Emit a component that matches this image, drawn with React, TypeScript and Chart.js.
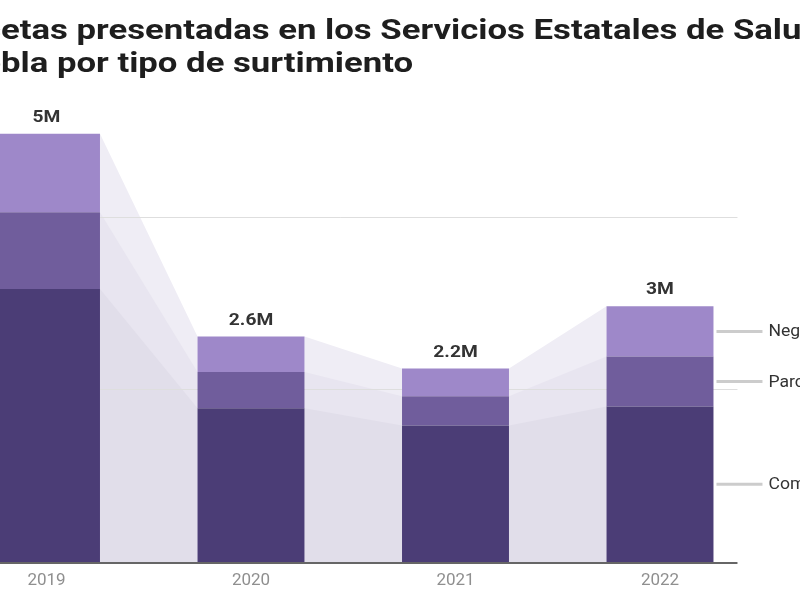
import React, { useEffect, useRef } from "react";
import { Chart, registerables } from "chart.js";

Chart.register(...registerables);

const years = ["2019", "2020", "2021", "2022"];
const completa = [3160000, 1780000, 1580000, 1800000];
const parcial = [890000, 420000, 340000, 580000];
const negada = [910000, 410000, 320000, 580000];
const seriesNames = ["Completa", "Parcial", "Negada"];
const gridValues = [2000000, 4000000];
const titleLine1Hidden = "Rec";
const titleLine1 = "etas presentadas en los Servicios Estatales de Salud de";
const titleLine2Hidden = "Pue";
const titleLine2 = "bla por tipo de surtimiento";

const barColors = ["#4b3d76", "#705d9c", "#9e88c9"];
const connectorColors = ["#e1deea", "#e8e5f0", "#efedf5"];

const CANVAS_W = 1000;
const CANVAS_H = 600;
const CANVAS_LEFT = -120;

function fmtTotal(v: number): string {
  const r = Math.round(v / 100000) / 10;
  return (Number.isInteger(r) ? r.toFixed(0) : r.toFixed(1)) + "M";
}

function scaledText(ctx: any, text: string, x: number, y: number, sx: number, align: string) {
  ctx.save();
  ctx.translate(x, y);
  ctx.scale(sx, 1);
  ctx.textAlign = align;
  ctx.fillText(text, 0, 0);
  ctx.restore();
}

const decoPlugin = {
  id: "deco",
  beforeDatasetsDraw(chart: any) {
    const { ctx, chartArea } = chart;
    const y = chart.scales.y;
    const metas = [0, 1, 2].map((i) => chart.getDatasetMeta(i));
    const base = y.getPixelForValue(0);
    ctx.save();
    for (let k = 2; k >= 0; k--) {
      ctx.fillStyle = connectorColors[k];
      for (let i = 0; i < years.length - 1; i++) {
        const a = metas[k].data[i];
        const b = metas[k].data[i + 1];
        const ax = a.x + a.width / 2;
        const bx = b.x - b.width / 2;
        ctx.beginPath();
        ctx.moveTo(ax, base);
        ctx.lineTo(ax, a.y);
        ctx.lineTo(bx, b.y);
        ctx.lineTo(bx, base);
        ctx.closePath();
        ctx.fill();
      }
    }
    const last = metas[0].data[years.length - 1];
    const gridRight = last.x + last.width / 2 + 24;
    ctx.strokeStyle = "#dedede";
    ctx.lineWidth = 1;
    gridValues.forEach((v) => {
      const py = Math.round(y.getPixelForValue(v)) + 0.5;
      ctx.beginPath();
      ctx.moveTo(chartArea.left, py);
      ctx.lineTo(gridRight, py);
      ctx.stroke();
    });
    ctx.restore();
  },
  afterDatasetsDraw(chart: any) {
    const { ctx, chartArea } = chart;
    const y = chart.scales.y;
    const metas = [0, 1, 2].map((i) => chart.getDatasetMeta(i));
    const base = y.getPixelForValue(0);
    const lastIdx = years.length - 1;
    const last = metas[0].data[lastIdx];
    const gridRight = last.x + last.width / 2 + 24;
    ctx.save();
    // baseline
    ctx.strokeStyle = "#666666";
    ctx.lineWidth = 2;
    ctx.beginPath();
    ctx.moveTo(chartArea.left, base + 1);
    ctx.lineTo(gridRight, base + 1);
    ctx.stroke();
    // totals
    ctx.fillStyle = "#333333";
    ctx.font = "bold 16px Roboto";
    ctx.textBaseline = "middle";
    years.forEach((_, i) => {
      const total = completa[i] + parcial[i] + negada[i];
      const top = metas[2].data[i];
      scaledText(ctx, fmtTotal(total), top.x, top.y - 16, 1.2, "center");
    });
    // right labels
    ctx.font = "16px Roboto";
    for (let k = 2; k >= 0; k--) {
      const el = metas[k].data[lastIdx];
      const mid = (el.y + el.base) / 2;
      const x0 = el.x + el.width / 2 + 3;
      ctx.strokeStyle = "#cccccc";
      ctx.lineWidth = 3;
      ctx.beginPath();
      ctx.moveTo(x0, mid);
      ctx.lineTo(x0 + 46, mid);
      ctx.stroke();
      ctx.fillStyle = "#333333";
      scaledText(ctx, seriesNames[k], x0 + 52, mid + 1, 1.1, "left");
    }
    ctx.restore();
  },
};

export default function App() {
  const canvasRef = useRef<HTMLCanvasElement | null>(null);

  useEffect(() => {
    const canvas = canvasRef.current;
    if (!canvas) return;
    Chart.defaults.font.family = "Roboto";
    const chart = new Chart(canvas, {
      type: "bar",
      data: {
        labels: years,
        datasets: [
          { label: seriesNames[0], data: completa, backgroundColor: barColors[0] },
          { label: seriesNames[1], data: parcial, backgroundColor: barColors[1] },
          { label: seriesNames[2], data: negada, backgroundColor: barColors[2] },
        ],
      },
      options: {
        responsive: false,
        animation: false,
        layout: { padding: { left: 64.25, right: 117.75, top: 87, bottom: 0 } },
        datasets: { bar: { categoryPercentage: 0.523, barPercentage: 1 } },
        plugins: { legend: { display: false }, tooltip: { enabled: false } },
        scales: {
          x: {
            stacked: true,
            grid: { display: false, drawTicks: false },
            border: { display: false },
            ticks: { color: "#8f8f8f", font: { size: 17 }, padding: 9 },
            afterFit: (scale: any) => {
              scale.height = 38;
            },
          },
          y: {
            stacked: true,
            display: false,
            min: 0,
            max: 5500000,
          },
        },
      },
      plugins: [decoPlugin],
    } as any);
    return () => chart.destroy();
  }, []);

  return (
    <div
      style={{
        position: "fixed",
        left: 0,
        top: 0,
        width: 800,
        height: 600,
        overflow: "hidden",
        background: "#ffffff",
      }}
    >
      <canvas
        ref={canvasRef}
        width={CANVAS_W}
        height={CANVAS_H}
        style={{ position: "absolute", left: CANVAS_LEFT, top: 0, width: CANVAS_W, height: CANVAS_H }}
      />
      <div
        style={{
          position: "absolute",
          left: 1,
          top: 13,
          fontFamily: "Roboto",
          fontWeight: 700,
          fontSize: 28,
          lineHeight: "33px",
          color: "#1e1e1e",
          whiteSpace: "nowrap",
          transform: "scaleX(1.24)",
          transformOrigin: "0 0",
        }}
      >
        <div style={{ position: "relative" }}>
          <span style={{ position: "absolute", right: "100%" }}>{titleLine1Hidden}</span>
          {titleLine1}
        </div>
        <div style={{ position: "relative" }}>
          <span style={{ position: "absolute", right: "100%" }}>{titleLine2Hidden}</span>
          {titleLine2}
        </div>
      </div>
    </div>
  );
}
